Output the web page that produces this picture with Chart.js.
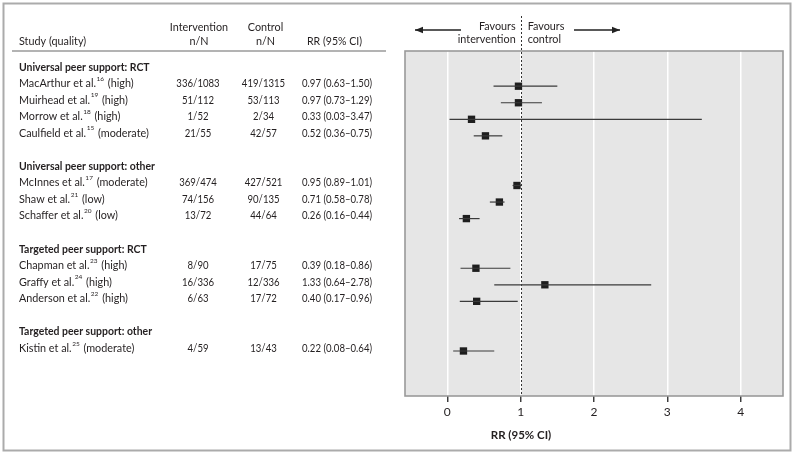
<!DOCTYPE html>
<html>
<head>
<meta charset="utf-8">
<script src="https://cdn.jsdelivr.net/npm/chart.js@4.4.1/dist/chart.umd.min.js"></script>
<style>
  html, body { margin: 0; padding: 0; background: #fff; }
  canvas { display: block; }
</style>
</head>
<body>
<canvas id="forest" width="795" height="456"></canvas>
<script>
// ===== DATA =====
const groups = ['Universal peer support: RCT', 'Universal peer support: other', 'Targeted peer support: RCT', 'Targeted peer support: other'];
const groupRow = [0, 6, 11, 16];

const studies = ['MacArthur et al.', 'Muirhead et al.', 'Morrow et al.', 'Caulfield et al.', 'McInnes et al.', 'Shaw et al.', 'Schaffer et al.', 'Chapman et al.', 'Graffy et al.', 'Anderson et al.', 'Kistin et al.'];
const refs = ['16', '19', '18', '15', '17', '21', '20', '23', '24', '22', '25'];
const quality = ['high', 'high', 'high', 'moderate', 'moderate', 'low', 'low', 'high', 'high', 'high', 'moderate'];
const studyRow = [1, 2, 3, 4, 7, 8, 9, 12, 13, 14, 17];

const intervention = ['336/1083', '51/112', '1/52', '21/55', '369/474', '74/156', '13/72', '8/90', '16/336', '6/63', '4/59'];
const control = ['419/1315', '53/113', '2/34', '42/57', '427/521', '90/135', '44/64', '17/75', '12/336', '17/72', '13/43'];
const rr = [0.97, 0.97, 0.33, 0.52, 0.95, 0.71, 0.26, 0.39, 1.33, 0.40, 0.22];
const lo = [0.63, 0.73, 0.03, 0.36, 0.89, 0.58, 0.16, 0.18, 0.64, 0.17, 0.08];
const hi = [1.50, 1.29, 3.47, 0.75, 1.01, 0.78, 0.44, 0.86, 2.78, 0.96, 0.64];

const xTicks = [0, 1, 2, 3, 4];

const FONT = 'Lato, "Open Sans", sans-serif';
const TEXT = '#231f20';
const WORD_SX = 0.9;   // narrow the text a little, the original face is condensed
const NUM_SX = 0.8;
const BOLD_SX = 0.87;

// ===== DATASETS =====
const ciSets = studies.map((s, i) => ({
    type: 'line',
    label: s + ' CI',
    data: [{ x: lo[i], y: studyRow[i] }, { x: hi[i], y: studyRow[i] }],
    borderColor: '#3a3a3a',
    borderWidth: 1.2,
    pointRadius: 0,
    fill: false
}));

const estSet = {
    type: 'scatter',
    label: 'RR',
    data: rr.map((v, i) => ({ x: v, y: studyRow[i] })),
    pointStyle: 'rect',
    pointRadius: 5.2,
    backgroundColor: '#1e1e1e',
    borderColor: '#1e1e1e',
    borderWidth: 0
};

// ===== DRAWING HELPERS =====
function txt(ctx, t, x, y, sx) {
    const w = ctx.measureText(t).width;
    ctx.fillText(t, x, y, w * sx);
    return w * sx;
}

function arrow(ctx, x1, x2, y) {
    ctx.beginPath();
    ctx.moveTo(x1, y);
    ctx.lineTo(x2, y);
    ctx.stroke();
    const dir = x2 > x1 ? 1 : -1;
    ctx.beginPath();
    ctx.moveTo(x2, y);
    ctx.lineTo(x2 - dir * 8, y - 3.2);
    ctx.lineTo(x2 - dir * 8, y + 3.2);
    ctx.closePath();
    ctx.fill();
}

const framePlugin = {
    id: 'frame',
    beforeDraw(chart) {
        const { ctx, chartArea: a } = chart;
        ctx.save();
        ctx.fillStyle = '#fff';
        ctx.fillRect(0, 0, chart.width, chart.height);
        // outer frame
        ctx.strokeStyle = '#ababab';
        ctx.lineWidth = 2;
        ctx.strokeRect(3.5, 3.5, 787, 447);
        // plot panel
        ctx.fillStyle = '#e6e6e6';
        ctx.fillRect(a.left, a.top, a.right - a.left, a.bottom - a.top);
        ctx.restore();
    },
    beforeDatasetsDraw(chart) {
        const { ctx, chartArea: a, scales } = chart;
        ctx.save();
        ctx.strokeStyle = '#9a9a9a';
        ctx.lineWidth = 1.6;
        ctx.strokeRect(a.left, a.top, a.right - a.left, a.bottom - a.top);
        // reference line at RR = 1
        const x1 = Math.round(scales.x.getPixelForValue(1)) + 0.5;
        ctx.strokeStyle = '#333';
        ctx.lineWidth = 1;
        ctx.setLineDash([2, 2]);
        ctx.beginPath();
        ctx.moveTo(x1, 16);
        ctx.lineTo(x1, a.bottom);
        ctx.stroke();
        ctx.restore();
    },
    afterDraw(chart) {
        const { ctx, scales } = chart;
        const ys = scales.y;
        const rowY = r => ys.getPixelForValue(r) - 3;
        const REG = '12px ' + FONT;
        ctx.save();
        ctx.fillStyle = TEXT;
        ctx.textBaseline = 'middle';

        // header
        ctx.font = REG;
        ctx.textAlign = 'left';
        txt(ctx, 'Study (quality)', 19, 41, WORD_SX);
        ctx.textAlign = 'center';
        txt(ctx, 'Intervention', 199, 27, WORD_SX);
        txt(ctx, 'n/N', 199, 41, WORD_SX);
        txt(ctx, 'Control', 265.5, 27, WORD_SX);
        txt(ctx, 'n/N', 265.5, 41, WORD_SX);
        txt(ctx, 'RR (95% CI)', 334.5, 41, 0.88);

        ctx.strokeStyle = '#9a9a9a';
        ctx.lineWidth = 1.4;
        ctx.beginPath();
        ctx.moveTo(12, 51);
        ctx.lineTo(386, 51);
        ctx.stroke();

        // group titles
        ctx.font = 'bold 12px ' + FONT;
        ctx.textAlign = 'left';
        groups.forEach((g, i) => txt(ctx, g, 19, rowY(groupRow[i]), BOLD_SX));

        // study rows
        studies.forEach((s, i) => {
            const y = rowY(studyRow[i]);
            ctx.font = REG;
            ctx.textAlign = 'left';
            let x = 19 + txt(ctx, s, 19, y, WORD_SX);
            ctx.font = '6.5px ' + FONT;
            x += 0.5 + txt(ctx, refs[i], x + 0.5, y - 4.5, 1);
            ctx.font = REG;
            txt(ctx, ' (' + quality[i] + ')', x + 1, y, WORD_SX);
            ctx.textAlign = 'center';
            txt(ctx, intervention[i], 198, y, NUM_SX);
            txt(ctx, control[i], 263.5, y, NUM_SX);
            ctx.textAlign = 'left';
            txt(ctx, rr[i].toFixed(2) + ' (' + lo[i].toFixed(2) + '\u2013' + hi[i].toFixed(2) + ')', 302, y, NUM_SX);
        });

        // favours labels
        const x1 = scales.x.getPixelForValue(1);
        ctx.font = REG;
        ctx.textAlign = 'right';
        txt(ctx, 'Favours', x1 - 5, 26, WORD_SX);
        txt(ctx, 'intervention', x1 - 5, 39, WORD_SX);
        ctx.textAlign = 'left';
        txt(ctx, 'Favours', x1 + 7, 26, WORD_SX);
        txt(ctx, 'control', x1 + 7, 39, WORD_SX);
        ctx.strokeStyle = '#222';
        ctx.fillStyle = '#222';
        ctx.lineWidth = 1.3;
        arrow(ctx, 461, 415, 30);
        arrow(ctx, 574, 620, 30);

        // axis title
        ctx.fillStyle = TEXT;
        ctx.font = 'bold 11.5px ' + FONT;
        ctx.textAlign = 'center';
        ctx.fillText('RR (95% CI)', 521, 435);
        ctx.restore();
    }
};

// ===== CHART =====
new Chart(document.getElementById('forest'), {
    data: { datasets: [...ciSets, estSet] },
    options: {
        responsive: false,
        animation: false,
        devicePixelRatio: 1,
        layout: { padding: { left: 405, right: 12, top: 51, bottom: 30 } },
        plugins: { legend: { display: false }, tooltip: { enabled: false } },
        scales: {
            x: {
                type: 'linear',
                min: -0.577,
                max: 4.577,
                afterBuildTicks: s => { s.ticks = xTicks.map(v => ({ value: v })); },
                afterFit: s => { s.height = 30; },
                border: { display: false },
                grid: {
                    color: '#ffffff',
                    lineWidth: 1.5,
                    tickColor: '#333',
                    tickLength: 6,
                    tickWidth: 1.4
                },
                ticks: {
                    color: TEXT,
                    padding: 3,
                    font: { family: FONT, size: 12 }
                }
            },
            y: {
                type: 'linear',
                display: false,
                reverse: true,
                min: -1.127,
                max: 19.72
            }
        }
    },
    plugins: [framePlugin]
});
</script>
</body>
</html>
